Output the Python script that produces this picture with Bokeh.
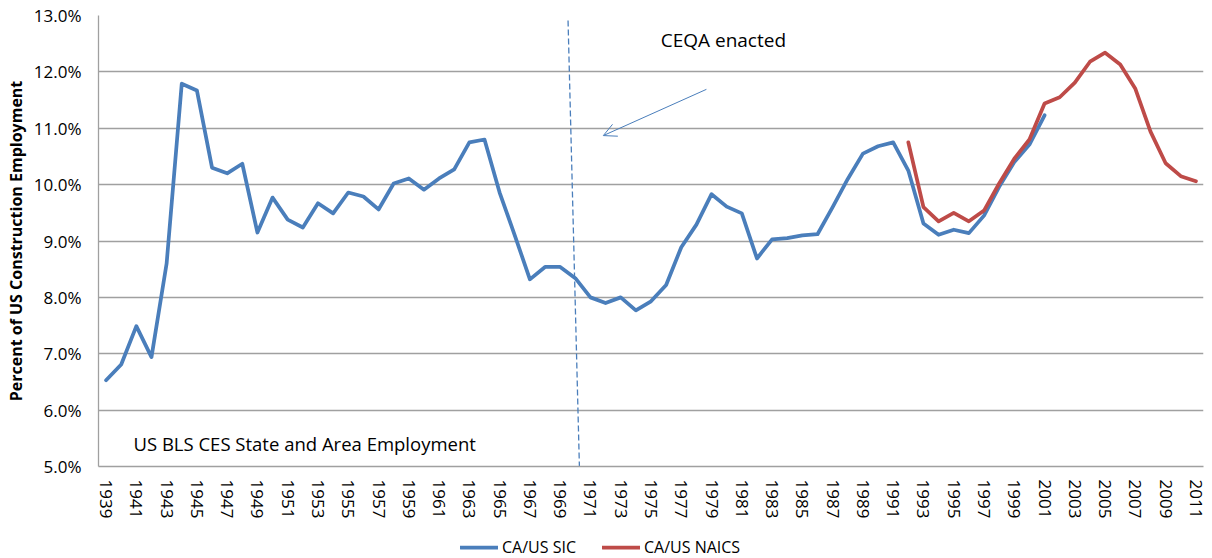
from bokeh.plotting import figure
from bokeh.layouts import column
from bokeh.models import (Range1d, FixedTicker, Label, Arrow, OpenHead, Legend,
                          LegendItem, ColumnDataSource)
from bokeh.embed import file_html
from bokeh.resources import INLINE

# ---- data ----
sic_years = list(range(1939, 2002))
sic_values = [6.53, 6.81, 7.49, 6.94, 8.60, 11.79, 11.67, 10.30, 10.20, 10.37,
              9.15, 9.77, 9.38, 9.24, 9.67, 9.49, 9.86, 9.79, 9.56, 10.02,
              10.11, 9.91, 10.11, 10.27, 10.75, 10.80, 9.86, 9.10, 8.32, 8.54,
              8.54, 8.34, 8.00, 7.90, 8.00, 7.77, 7.93, 8.22, 8.89, 9.29,
              9.83, 9.61, 9.49, 8.69, 9.03, 9.05, 9.10, 9.12, 9.60, 10.10,
              10.55, 10.68, 10.75, 10.25, 9.31, 9.11, 9.20, 9.14, 9.45, 9.96,
              10.40, 10.71, 11.23]
naics_years = list(range(1992, 2012))
naics_values = [10.75, 9.60, 9.35, 9.50, 9.35, 9.54, 10.02, 10.46, 10.80, 11.44,
                11.55, 11.81, 12.18, 12.34, 12.13, 11.70, 10.94, 10.38, 10.15, 10.06]
series_names = ["CA/US SIC", "CA/US NAICS"]
x_ticks = list(range(1939, 2012, 2))
y_ticks = [5, 6, 7, 8, 9, 10, 11, 12, 13]
y_tick_labels = ["5.0%", "6.0%", "7.0%", "8.0%", "9.0%", "10.0%", "11.0%", "12.0%", "13.0%"]
ceqa_line_x = [1969.52, 1970.27]
ceqa_line_y = [12.91, 5.0]

BLUE = "#4A7EBB"
RED = "#BE4B48"
GRID = "#A0A0A0"
FONT = "Open Sans"
LW = 3.75

p = figure(width=1212, height=530, output_backend="svg", toolbar_location=None,
           x_range=Range1d(1938.5, 2011.5), y_range=Range1d(5, 13),
           min_border_left=98, min_border_right=9, min_border_top=15,
           min_border_bottom=64)
p.outline_line_color = None
p.background_fill_color = "white"
p.border_fill_color = "white"

p.xgrid.grid_line_color = None
p.ygrid.grid_line_color = GRID
p.ygrid.grid_line_width = 1.3

p.yaxis.ticker = FixedTicker(ticks=y_ticks)
p.yaxis.major_label_overrides = {t: l for t, l in zip(y_ticks, y_tick_labels)}
p.xaxis.ticker = FixedTicker(ticks=x_ticks)
p.xaxis.major_label_overrides = {t: str(t) for t in x_ticks}
p.xaxis.major_label_orientation = "vertical"

for ax in (p.xaxis[0], p.yaxis[0]):
    ax.axis_line_color = GRID
    ax.axis_line_width = 1.3
    ax.major_tick_line_color = None
    ax.minor_tick_line_color = None
    ax.major_tick_out = 0
    ax.major_tick_in = 0
    ax.major_label_text_font = FONT
    ax.major_label_text_font_size = "17px"
    ax.major_label_text_color = "#000000"

p.yaxis.major_label_standoff = 17
p.xaxis.major_label_standoff = 13
p.yaxis.axis_label = "Percent of US Construction Employment"
p.yaxis.axis_label_text_font = FONT
p.yaxis.axis_label_text_font_style = "bold"
p.yaxis.axis_label_text_font_size = "16px"
p.yaxis.axis_label_text_color = "#000000"
p.yaxis.axis_label_standoff = 4

sic_src = ColumnDataSource(dict(x=sic_years, y=sic_values))
naics_src = ColumnDataSource(dict(x=naics_years, y=naics_values))

p.line("x", "y", source=sic_src, line_color=BLUE, line_width=LW,
       line_join="round", line_cap="round")
p.line("x", "y", source=naics_src, line_color=RED, line_width=LW,
       line_join="round", line_cap="round")

# CEQA dashed marker
p.line(ceqa_line_x, ceqa_line_y, line_color=BLUE, line_width=1.3, line_dash="6 3")

p.add_layout(Arrow(end=OpenHead(size=13, line_color=BLUE, line_width=1),
                   x_start=1978.66, y_start=11.69, x_end=1971.85, y_end=10.87,
                   line_color=BLUE, line_width=1))

p.add_layout(Label(x=1979.78, y=12.57, text="CEQA enacted", text_align="center",
                   text_baseline="middle", text_font=FONT, text_font_size="19px",
                   text_color="#000000"))
p.add_layout(Label(x=1940.81, y=5.41, text="US BLS CES State and Area Employment",
                   text_align="left", text_baseline="middle", text_font=FONT,
                   text_font_size="18.5px", text_color="#000000"))

# ---- legend strip below the chart ----
lg = figure(width=1212, height=28, output_backend="svg", toolbar_location=None,
            x_range=Range1d(0, 1), y_range=Range1d(0, 1),
            x_axis_type=None, y_axis_type=None,
            min_border_left=0, min_border_right=0, min_border_top=0, min_border_bottom=0)
lg.outline_line_color = None
lg.xgrid.grid_line_color = None
lg.ygrid.grid_line_color = None
lg.background_fill_color = "white"
lg.border_fill_color = "white"
# legend-key renderers: placed outside the strip's visible range
lr_sic = lg.line([5, 6], [5, 6], line_color=BLUE, line_width=LW, line_cap="round")
lr_naics = lg.line([5, 6], [5, 6], line_color=RED, line_width=LW, line_cap="round")

legend = Legend(items=[LegendItem(label=series_names[0], renderers=[lr_sic]),
                       LegendItem(label=series_names[1], renderers=[lr_naics])],
                orientation="horizontal", location=(362, 0))
legend.border_line_color = None
legend.background_fill_alpha = 0
legend.label_text_font = FONT
legend.label_text_font_size = "16px"
legend.label_text_color = "#000000"
legend.glyph_width = 38
legend.glyph_height = 18
legend.label_standoff = 4
legend.spacing = 26
legend.padding = 0
legend.margin = 0
lg.add_layout(legend)

open("out.html", "w").write(file_html(column(p, lg, spacing=0), INLINE))
